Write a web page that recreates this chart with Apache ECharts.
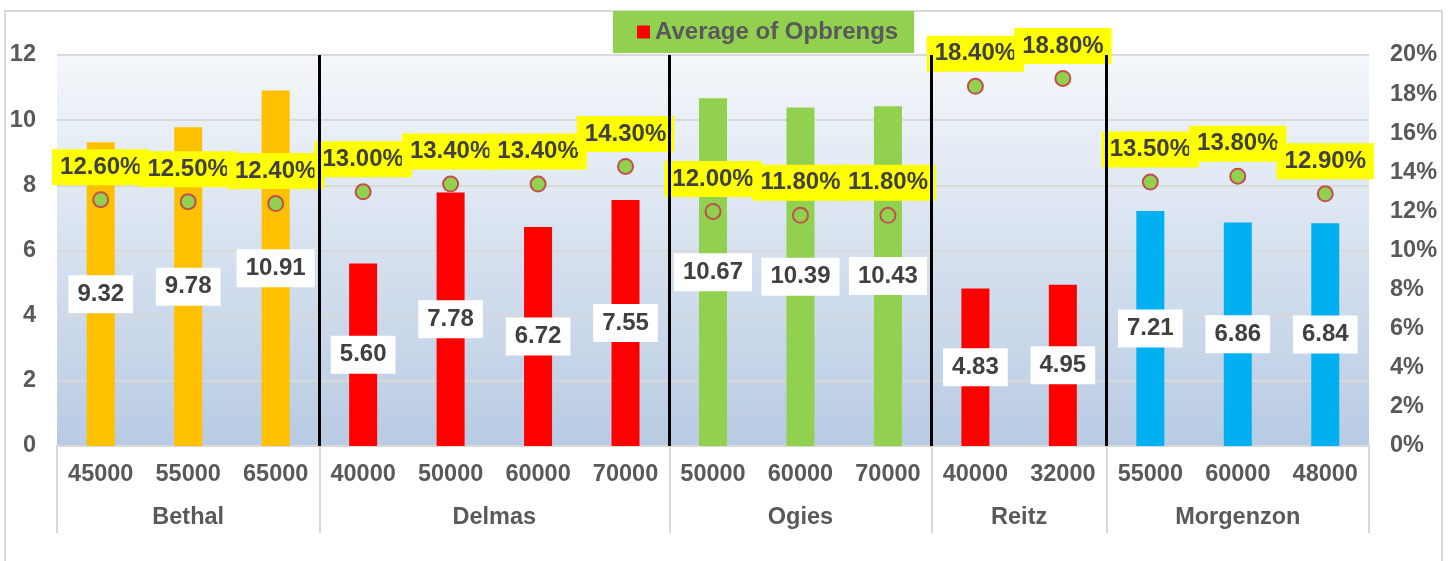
<!DOCTYPE html>
<html>
<head>
<meta charset="utf-8">
<script src="https://cdn.jsdelivr.net/npm/echarts@6/dist/echarts.min.js"></script>
<style>
  html, body { margin: 0; padding: 0; background: #fff; }
  #chart { width: 1453px; height: 561px; }
</style>
</head>
<body>
<div id="chart"></div>
<script>
// chart data
const groups = ['Bethal', 'Delmas', 'Ogies', 'Reitz', 'Morgenzon']
const groupSizes = [3, 4, 3, 2, 3]
const groupColors = ['#FFC000', '#FF0000', '#92D050', '#FF0000', '#00B0F0']
const incomes = ['45000', '55000', '65000', '40000', '50000', '60000', '70000',
  '50000', '60000', '70000', '40000', '32000', '55000', '60000', '48000']
const opbrengs = [9.32, 9.78, 10.91, 5.60, 7.78, 6.72, 7.55, 10.67, 10.39, 10.43, 4.83, 4.95, 7.21, 6.86, 6.84]
const rates = [0.126, 0.125, 0.124, 0.130, 0.134, 0.134, 0.143, 0.120, 0.118, 0.118, 0.184, 0.188, 0.135, 0.138, 0.129]
const leftTicks = [0, 2, 4, 6, 8, 10, 12]
const rightTicks = [0, 0.02, 0.04, 0.06, 0.08, 0.10, 0.12, 0.14, 0.16, 0.18, 0.20]

// group boundaries and centres on a 0..n scale
const bounds = [0]
groupSizes.forEach(s => bounds.push(bounds[bounds.length - 1] + s))
const centers = groupSizes.map((s, i) => bounds[i] + s / 2)
const groupOf = []
groupSizes.forEach((s, i) => { for (let k = 0; k < s; k++) groupOf.push(i) })

const txt = '#595959'
const font = 'Liberation Sans, Arial, sans-serif'
const fs = 23.5

const chart = echarts.init(document.getElementById('chart'))

chart.setOption({
  animation: false,
  textStyle: { fontFamily: font },
  graphic: [{
    type: 'rect',
    shape: { x: 5, y: 11, width: 1437, height: 560 },
    style: { fill: 'none', stroke: '#d9d9d9', lineWidth: 2 },
    silent: true
  }],
  legend: {
    data: ['Average of Opbrengs'],
    left: 613,
    top: 11,
    backgroundColor: '#92D050',
    padding: [9, 16, 9, 24],
    itemWidth: 13,
    itemHeight: 13,
    icon: 'rect',
    textStyle: { color: txt, fontSize: 24, fontWeight: 'bold', fontFamily: font }
  },
  grid: {
    left: 57, right: 84, top: 55, bottom: 115,
    show: true,
    borderWidth: 0,
    backgroundColor: new echarts.graphic.LinearGradient(0, 0, 0, 1, [
      { offset: 0, color: '#f4f7fb' },
      { offset: 1, color: '#b8cbe3' }
    ])
  },
  xAxis: [{
    type: 'category',
    data: incomes,
    axisLine: { lineStyle: { color: '#d9d9d9', width: 2 } },
    axisTick: { show: false },
    axisLabel: { color: txt, fontSize: fs, fontWeight: 'bold', margin: 17, interval: 0 }
  }, {
    type: 'value',
    min: 0,
    max: incomes.length,
    position: 'bottom',
    splitLine: { show: false },
    axisLine: { show: false },
    axisTick: {
      show: true,
      customValues: bounds,
      length: 87,
      lineStyle: { color: '#d9d9d9', width: 2 }
    },
    axisLabel: {
      customValues: centers,
      margin: 60,
      color: txt, fontSize: fs, fontWeight: 'bold',
      formatter: v => {
        const i = centers.indexOf(v)
        return i >= 0 ? groups[i] : ''
      }
    }
  }],
  yAxis: [{
    type: 'value',
    min: leftTicks[0],
    max: leftTicks[leftTicks.length - 1],
    interval: 2,
    axisLine: { show: false },
    axisTick: { show: false },
    axisLabel: { color: txt, fontSize: fs, fontWeight: 'bold', margin: 21 },
    splitLine: { lineStyle: { color: '#d9d9d9', width: 2 } }
  }, {
    type: 'value',
    min: rightTicks[0],
    max: rightTicks[rightTicks.length - 1],
    interval: 0.02,
    axisLine: { show: false },
    axisTick: { show: false },
    splitLine: { show: false },
    axisLabel: {
      color: txt, fontSize: fs, fontWeight: 'bold', margin: 21,
      formatter: v => Math.round(v * 100) + '%'
    }
  }],
  series: [{
    name: 'Average of Opbrengs',
    type: 'bar',
    xAxisIndex: 0,
    yAxisIndex: 0,
    barWidth: 28,
    itemStyle: { color: '#FF0000' },
    data: opbrengs.map((v, i) => ({ value: v, itemStyle: { color: groupColors[groupOf[i]] } })),
    label: {
      show: true,
      position: 'inside',
      formatter: p => p.value.toFixed(2),
      backgroundColor: '#fff',
      padding: [7, 9],
      color: '#404040',
      fontSize: 24,
      fontWeight: 'bold'
    },
    z: 3
  }, {
    name: 'rate',
    type: 'scatter',
    xAxisIndex: 0,
    yAxisIndex: 1,
    symbol: 'circle',
    symbolSize: 15,
    itemStyle: { color: '#92D050', borderColor: '#C0504D', borderWidth: 2, opacity: 1 },
    data: rates,
    label: {
      show: true,
      position: 'top',
      distance: 6,
      formatter: p => (p.value * 100).toFixed(2) + '%',
      backgroundColor: '#FFFF00',
      padding: [6, 8],
      color: '#404040',
      fontSize: 24,
      fontWeight: 'bold'
    },
    z: 4
  }, {
    name: 'separators',
    type: 'line',
    xAxisIndex: 1,
    yAxisIndex: 0,
    data: [],
    markLine: {
      silent: true,
      symbol: 'none',
      label: { show: false },
      lineStyle: { color: '#000', width: 3, type: 'solid' },
      data: bounds.slice(1, -1).map(b => ({ xAxis: b }))
    },
    z: 5
  }]
})
</script>
</body>
</html>
